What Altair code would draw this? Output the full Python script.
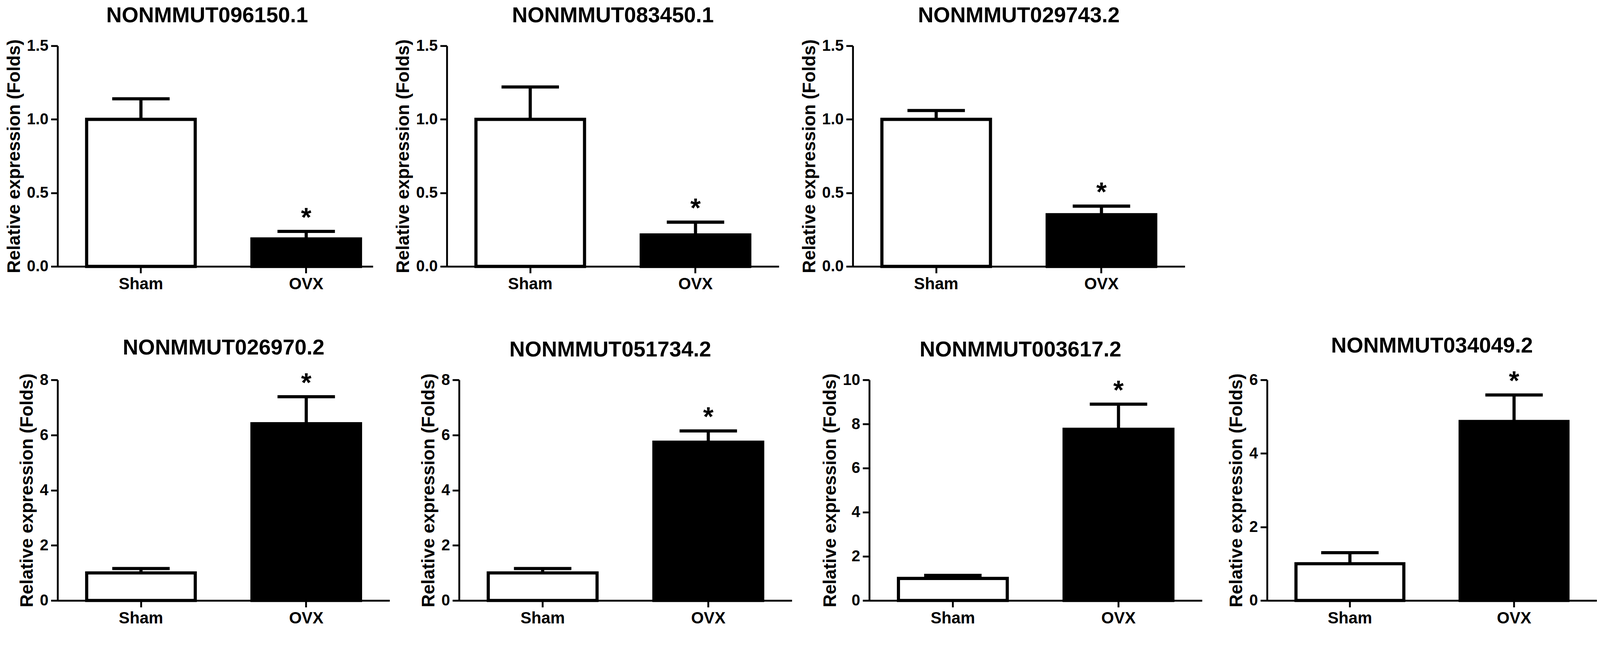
import altair as alt
import pandas as pd

# ---- data ----
titles = [
    "NONMMUT096150.1",
    "NONMMUT083450.1",
    "NONMMUT029743.2",
    "NONMMUT026970.2",
    "NONMMUT051734.2",
    "NONMMUT003617.2",
    "NONMMUT034049.2",
]
groups = ["Sham", "OVX"]
sham_mean = [1.0, 1.0, 1.0, 1.0, 1.0, 1.0, 1.0]
sham_upper = [1.14, 1.22, 1.06, 1.16, 1.16, 1.14, 1.30]
ovx_mean = [0.187, 0.214, 0.352, 6.41, 5.74, 7.76, 4.87]
ovx_upper = [0.238, 0.301, 0.41, 7.39, 6.15, 8.90, 5.59]
significant = ["OVX"]
y_max = [1.5, 1.5, 1.5, 8, 8, 10, 6]
y_ticks = [
    [0, 0.5, 1.0, 1.5],
    [0, 0.5, 1.0, 1.5],
    [0, 0.5, 1.0, 1.5],
    [0, 2, 4, 6, 8],
    [0, 2, 4, 6, 8],
    [0, 2, 4, 6, 8, 10],
    [0, 2, 4, 6],
]
y_formats = [".1f", ".1f", ".1f", "d", "d", "d", "d"]
y_title = "Relative expression (Folds)"

FONT = "Liberation Sans"
PLOT_H = 595


def panel(i, width, pad_outer=0.176, align=0.5, title_dx=0):
    df = pd.DataFrame(
        {
            "group": groups,
            "mean": [sham_mean[i], ovx_mean[i]],
            "upper": [sham_upper[i], ovx_upper[i]],
        }
    )
    xscale = alt.Scale(domain=groups, paddingInner=0.343, paddingOuter=pad_outer, align=align)
    x = alt.X("group:N", sort=groups, scale=xscale, title=None,
              axis=alt.Axis(labelAngle=0))
    yscale = alt.Scale(domain=[0, y_max[i]], nice=False, zero=True)
    yaxis = alt.Axis(values=y_ticks[i], format=y_formats[i], grid=False)

    bars = alt.Chart(df).mark_bar(stroke="black", strokeWidth=8.5, strokeJoin="miter").encode(
        x=x,
        y=alt.Y("mean:Q", scale=yscale, axis=yaxis, title=y_title),
        fill=alt.Fill("group:N", scale=alt.Scale(domain=groups, range=["white", "black"]), legend=None),
    )
    rule = alt.Chart(df).mark_rule(strokeWidth=8.5, color="black").encode(
        x=x,
        y=alt.Y("mean:Q", scale=yscale, axis=yaxis, title=y_title),
        y2="upper:Q",
    )
    cap = alt.Chart(df).mark_tick(thickness=8.5, size=155, color="black", opacity=1).encode(
        x=x,
        y=alt.Y("upper:Q", scale=yscale, axis=yaxis, title=y_title),
    )
    star = alt.Chart(df[df["group"].isin(significant)]).mark_text(
        text="*", font=FONT, fontWeight="bold", fontSize=72, baseline="alphabetic", dy=-14, color="black"
    ).encode(
        x=x,
        y=alt.Y("upper:Q", scale=yscale, axis=yaxis, title=y_title),
    )
    return alt.layer(rule, bars, cap, star).properties(
        width=width,
        height=PLOT_H,
        title=alt.TitleParams(titles[i], dx=title_dx),
    )


row1 = alt.hconcat(
    panel(0, 851, pad_outer=0.1255, align=0.70, title_dx=-22),
    panel(1, 896),
    panel(2, 896),
    spacing=57.5,
)
row2 = alt.hconcat(
    panel(3, 896),
    alt.hconcat(
        panel(4, 898, title_dx=-41),
        alt.hconcat(panel(5, 898, title_dx=-41), panel(6, 890), spacing=68.5),
        spacing=79,
    ),
    spacing=80.5,
)

chart = alt.vconcat(row1, row2, spacing=116).properties(
    padding={"left": 5, "top": -38, "right": 0, "bottom": -8}
).configure_view(
    stroke=None
).configure_axis(
    domainColor="black",
    domainWidth=5,
    tickColor="black",
    tickWidth=5,
    tickSize=18,
    labelFont=FONT,
    labelFontWeight="bold",
    labelFontSize=42,
    labelColor="black",
    labelPadding=7,
    titleFont=FONT,
    titleFontWeight="bold",
    titleFontSize=48.5,
    titleColor="black",
    titlePadding=9,
).configure_axisX(
    labelFontSize=44,
    labelPadding=8,
).configure_title(
    font=FONT,
    fontSize=58,
    fontWeight="bold",
    color="black",
    anchor="middle",
    offset=30,
)

chart.save("out.html", embed_options={"renderer": "svg", "actions": False})
